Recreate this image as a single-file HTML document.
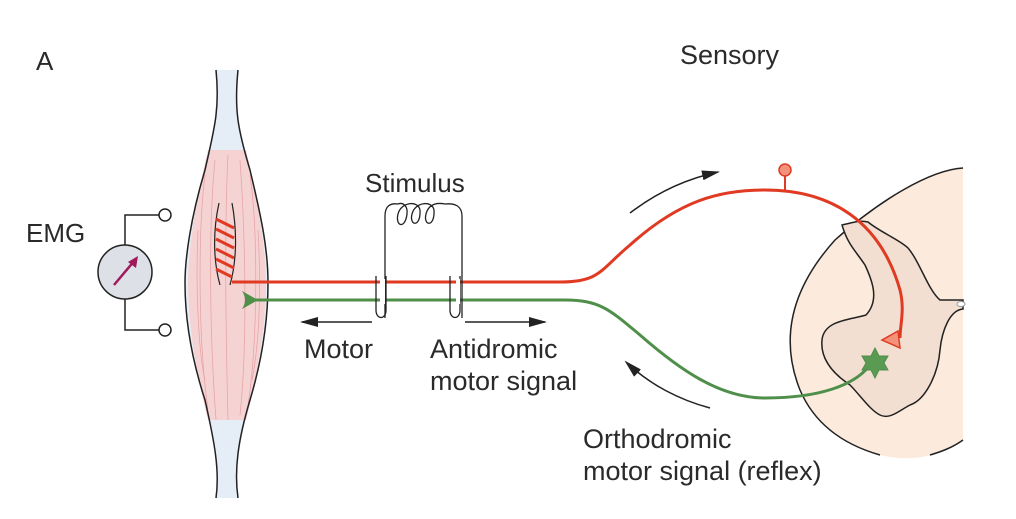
<!DOCTYPE html>
<html><head><meta charset="utf-8"><style>
html,body{margin:0;padding:0;background:#fff;}
svg{display:block}
text{font-family:"Liberation Sans",sans-serif;fill:#2a2a2a;}
</style></head><body>
<svg width="1016" height="519" viewBox="0 0 1016 519" xmlns="http://www.w3.org/2000/svg">
<defs>
<marker id="ah2" markerWidth="18" markerHeight="10" refX="16" refY="5" orient="auto" markerUnits="userSpaceOnUse"><path d="M0,0 L18,5 L0,10 Z" fill="#222"/></marker>
</defs>
<text x="36" y="70" font-size="26">A</text>
<text x="680" y="64" font-size="27">Sensory</text>
<!-- muscle -->
<path d="M216,70 C220,110 214,130 205,170 C190,220 185,260 185,283 C185,320 192,360 205,400 C214,440 220,470 216,498 L238,498 C234,470 238,440 250,400 C262,360 268,320 268,283 C268,250 262,220 250,170 C240,130 234,110 238,70 Z" fill="#e5eef6" stroke="none"/>
<path d="M208,150 C196,200 188,250 188,283 C188,320 195,370 208,420 L246,420 C259,370 266,320 266,283 C266,250 258,200 246,150 Z" fill="#f6d3d3"/>
<g stroke="#e7a5a8" stroke-width="0.8" fill="none">
<path d="M205,175 C198,230 198,340 208,410"/><path d="M215,160 C208,230 210,340 216,420"/><path d="M228,155 C224,230 226,340 228,420"/><path d="M240,160 C245,230 248,340 240,415"/><path d="M250,175 C258,230 258,340 248,405"/><path d="M198,230 C195,300 200,360 205,380"/><path d="M258,230 C262,300 258,350 252,380"/>
</g>
<path d="M216,70 C220,110 214,130 205,170 C190,220 185,260 185,283 C185,320 192,360 205,400 C214,440 220,470 216,498" fill="none" stroke="#222" stroke-width="1.5"/>
<path d="M238,70 C234,110 238,130 250,170 C262,220 268,250 268,283 C268,320 262,360 250,400 C238,440 234,470 238,498" fill="none" stroke="#222" stroke-width="1.5"/>
<!-- spindle -->
<path d="M219,203 C213,230 213,260 220,285 M232,203 C237,230 237,260 230,285" fill="none" stroke="#222" stroke-width="1.2"/>
<g stroke="#e03a22" stroke-width="3" fill="none">
<path d="M216,219 L234,228 M216,229 L234,238 M216,239 L234,248 M216,249 L234,258 M216,259 L234,268 M216,269 L232,277"/>
</g>
<!-- EMG -->
<text x="26" y="242" font-size="26">EMG</text>
<path d="M125,245 V215 H160 M125,299 V330 H160" fill="none" stroke="#222" stroke-width="1.5"/>
<circle cx="165" cy="215" r="6" fill="#fff" stroke="#222" stroke-width="1.5"/>
<circle cx="165" cy="330" r="6" fill="#fff" stroke="#222" stroke-width="1.5"/>
<circle cx="125" cy="272" r="27" fill="#dde1e7" stroke="#222" stroke-width="1.5"/>
<line x1="114" y1="285" x2="135" y2="260" stroke="#a0195a" stroke-width="2.5"/>
<path d="M138,256 L128,262 L136,268 Z" fill="#a0195a"/>
<!-- spinal cord -->
<path d="M963,168 C930,170 880,200 835,240 C790,290 780,340 800,390 C815,425 845,445 880,455 C920,465 950,450 963,440 Z" fill="#fcebdc"/>
<path d="M963,168 C930,170 880,200 835,240 C790,290 780,340 800,390 C815,425 845,445 880,455" fill="none" stroke="#222" stroke-width="1.5"/>
<path d="M963,440 C952,448 940,452 930,455" fill="none" stroke="#222" stroke-width="1.5"/>
<path d="M868,222 C880,232 900,240 908,248 C920,262 928,290 940,300 L963,300 L963,309 C950,310 942,330 940,350 C938,375 925,400 910,405 C900,410 890,420 880,415 C870,410 860,395 850,385 C835,375 820,360 822,340 C824,320 850,320 866,315 C880,300 872,280 865,265 C855,250 848,245 842,225 C855,222 860,220 868,222 Z" fill="#f3dfd2" stroke="#222" stroke-width="1.5"/>
<ellipse cx="961" cy="304" rx="4" ry="2.5" fill="#fff" stroke="#999" stroke-width="1"/>
<!-- red sensory -->
<path d="M232,282 H560 C600,282 600,270 630,245 C680,200 720,190 765,190 C830,190 880,220 900,290 C905,310 900,325 900,338" fill="none" stroke="#e03a22" stroke-width="3"/>
<line x1="785" y1="190" x2="785" y2="175" stroke="#e03a22" stroke-width="2"/>
<circle cx="785" cy="170" r="6" fill="#f3917a" stroke="#e03a22" stroke-width="1.5"/>
<path d="M882,340 L898,331 L900,348 Z" fill="#f3917a" stroke="#e03a22" stroke-width="1.5"/>
<!-- green motor -->
<path d="M250,300 H565 C600,300 610,310 640,335 C680,370 720,398 765,398 C820,398 855,385 870,365" fill="none" stroke="#4f8f4a" stroke-width="3"/>
<path d="M242,291 L258,300 L242,309 C246,303 246,297 242,291 Z" fill="#4f8f4a"/>
<path d="M875,348 L879,356 L888,356 L884,363 L888,370 L879,370 L875,378 L871,370 L862,370 L866,363 L862,356 L871,356 Z" fill="#5b9a52" stroke="#4f8f4a" stroke-width="1"/>
<!-- stimulus -->
<text x="365" y="192" font-size="26">Stimulus</text>
<path d="M385,318 V216 C385,206 390,203 398,204 M445,204 C455,203 462,206 462,216 V318" fill="none" stroke="#222" stroke-width="1.3"/>
<path d="M398,204 C403,202 408,206 407,214 C405,230 395,226 398,214 C401,202 418,200 420,210 C421,228 409,226 412,214 C415,202 432,200 434,210 C435,228 423,226 426,214 C429,202 440,203 445,204" fill="none" stroke="#222" stroke-width="1.3"/>
<path d="M376,276 V310 C376,320 386,320 386,310 V276" fill="none" stroke="#222" stroke-width="1.3"/>
<path d="M450,276 V310 C450,320 460,320 460,310 V276" fill="none" stroke="#222" stroke-width="1.3"/>
<rect x="380" y="279" width="5" height="25" fill="#fff"/>
<rect x="456" y="279" width="4" height="25" fill="#fff"/>
<!-- arrows -->
<line x1="372" y1="322" x2="302" y2="322" stroke="#222" stroke-width="1.5" marker-end="url(#ah2)"/>
<line x1="465" y1="322" x2="545" y2="322" stroke="#222" stroke-width="1.5" marker-end="url(#ah2)"/>
<path d="M630,213 C660,190 690,178 718,172" fill="none" stroke="#222" stroke-width="1.5" marker-end="url(#ah2)"/>
<path d="M710,408 C680,400 650,385 626,362" fill="none" stroke="#222" stroke-width="1.5" marker-end="url(#ah2)"/>
<!-- labels -->
<text x="304" y="358" font-size="27">Motor</text>
<text x="430" y="358" font-size="27">Antidromic</text>
<text x="430" y="390" font-size="27">motor signal</text>
<text x="583" y="448" font-size="27">Orthodromic</text>
<text x="583" y="480" font-size="27">motor signal (reflex)</text>
</svg>
</body></html>
